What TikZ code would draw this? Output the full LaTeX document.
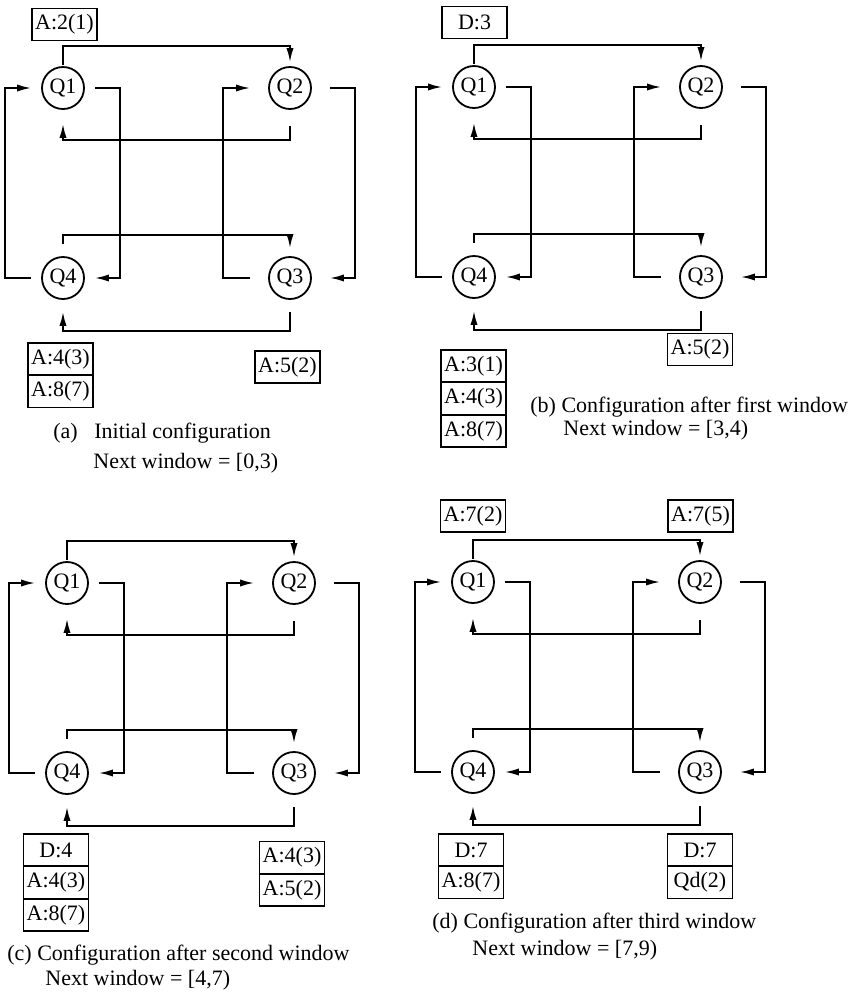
\documentclass[tikz,border=0pt]{standalone}
\usepackage{fontspec}
\setmainfont{Liberation Serif}
\usetikzlibrary{arrows.meta,positioning}

\begin{document}
\begin{tikzpicture}[
        x=0.5pt,y=0.5pt,
        font=\fontsize{11pt}{13pt}\selectfont,
        queue/.style={draw,circle,line width=0.9pt,minimum size=21pt,inner sep=0pt},
        link/.style={line width=0.9pt,-{Latex[length=7pt,width=3.6pt]}},
        tag/.style={draw,line width=0.8pt,minimum width=32.5pt,minimum height=16pt,inner sep=1pt},
        legend/.style={anchor=west,inner sep=0pt}]
        \useasboundingbox (0,0) rectangle (858,-993);
        % the four queues of each configuration
        \foreach \p/\x/\y in {a/63/88, b/474/87, c/67/583, d/473/582}{
          \node[queue] (\p1) at (\x,-\y) {Q1};
          \node[queue] (\p2) at (\x+227,-\y) {Q2};
          \node[queue] (\p3) at (\x+227,-\y-190) {Q3};
          \node[queue] (\p4) at (\x,-\y-190) {Q4};
          \draw[link,shorten <=0.5pt,shorten >=2pt] (\p1.north) -- ++(0,20) -| (\p2.north);
          \draw[link,shorten <=5pt,shorten >=5pt] (\p1.east) -- ++(35,0) |- (\p4.east);
          \draw[link,shorten <=8pt,shorten >=7pt] (\p2.south) -- ++(0,-30) -| (\p1.south);
          \draw[link,shorten <=9pt,shorten >=9pt] (\p3.west) -- ++(-45,0) |- (\p2.west);
          \draw[link,shorten <=9pt,shorten >=9pt] (\p2.east) -- ++(43,0) |- (\p3.east);
          \draw[link,shorten <=6pt,shorten >=4pt] (\p4.north) -- ++(0,21) -| (\p3.north);
          \draw[link,shorten <=6pt,shorten >=6pt] (\p3.south) -- ++(0,-31) -| (\p4.south);
          \draw[link,shorten <=5pt,shorten >=5pt] (\p4.west) -- ++(-36,0) |- (\p1.west);
        }
        % (a)
        \node[tag] (a1t) at (64.5,-24.5) {A:2(1)};
        \node[tag] (a4t) at (60.5,-359) {A:4(3)};
        \node[tag,below=-0.6pt of a4t] (a4u) {A:8(7)};
        \node[tag] (a3t) at (287.5,-367) {A:5(2)};
        \node[legend] (capa) at (53,-433) {(a)\enspace\ Initial configuration};
        \node[legend] (capa2) at (93,-463) {Next window = [0,3)};
        % (b)
        \node[tag] (b1t) at (474.5,-22.5) {D:3};
        \node[tag] (b4t) at (473.5,-366) {A:3(1)};
        \node[tag,below=-0.6pt of b4t] (b4u) {A:4(3)};
        \node[tag,below=-0.6pt of b4u] (b4v) {A:8(7)};
        \node[tag] (b3t) at (700,-349.5) {A:5(2)};
        \node[legend] (capb) at (530,-407) {(b) Configuration after first window};
        \node[legend] (capb2) at (563,-430) {Next window = [3,4)};
        % (c)
        \node[tag] (c4t) at (56,-850) {D:4};
        \node[tag,below=-0.6pt of c4t] (c4u) {A:4(3)};
        \node[tag,below=-0.6pt of c4u] (c4v) {A:8(7)};
        \node[tag] (c3t) at (292,-857.5) {A:4(3)};
        \node[tag,below=-0.6pt of c3t] (c3u) {A:5(2)};
        \node[legend] (capc) at (7,-955) {(c) Configuration after second window};
        \node[legend] (capc2) at (45,-980) {Next window = [4,7)};
        % (d)
        \node[tag] (d1t) at (473,-516) {A:7(2)};
        \node[tag] (d2t) at (700.5,-516) {A:7(5)};
        \node[tag] (d4t) at (471,-850) {D:7};
        \node[tag,below=-0.6pt of d4t] (d4u) {A:8(7)};
        \node[tag] (d3t) at (700,-850) {D:7};
        \node[tag,below=-0.6pt of d3t] (d3u) {Qd(2)};
        \node[legend] (capd) at (432,-923) {(d) Configuration after third window};
        \node[legend] (capd2) at (472,-950) {Next window = [7,9)};
      \end{tikzpicture}
\end{document}
